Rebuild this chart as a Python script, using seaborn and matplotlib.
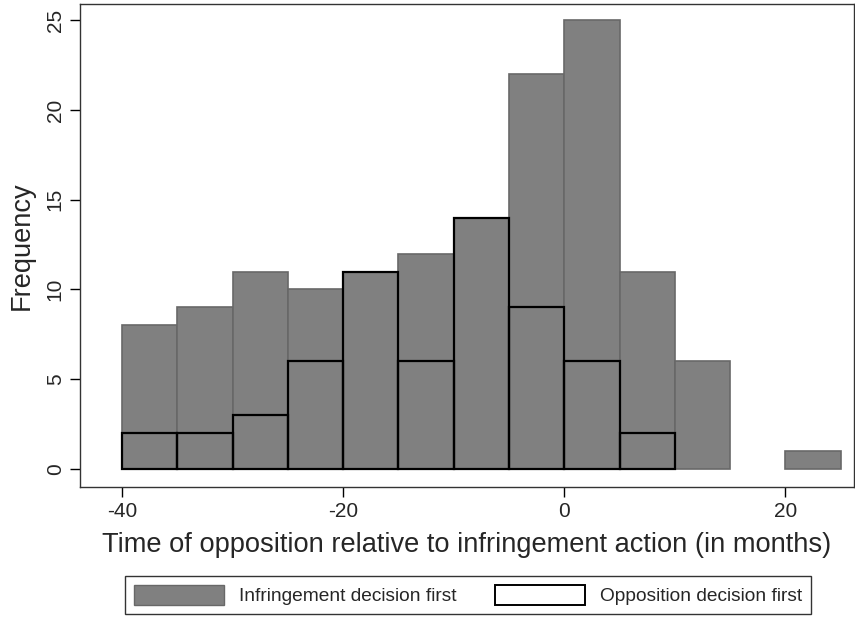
import numpy as np
import pandas as pd
import matplotlib
matplotlib.use('Agg')
import matplotlib.pyplot as plt
import seaborn as sns
from matplotlib.patches import Patch

# bin left edges (months), width 5
bin_left = [-40, -35, -30, -25, -20, -15, -10, -5, 0, 5, 10, 15, 20]
infringement_first = [8, 9, 11, 10, 11, 12, 14, 22, 25, 11, 6, 0, 1]
opp_left = [-40, -35, -30, -25, -20, -15, -10, -5, 0, 5]
opposition_first = [2, 2, 3, 6, 11, 6, 14, 9, 6, 2]

df_inf = pd.DataFrame({'mid': [b + 2.5 for b in bin_left], 'n': infringement_first})
df_opp = pd.DataFrame({'mid': [b + 2.5 for b in opp_left], 'n': opposition_first})

sns.set_style('white')
plt.rcParams['font.family'] = ['Liberation Sans', 'DejaVu Sans']
plt.rcParams['axes.unicode_minus'] = False

fig = plt.figure(figsize=(8.55, 6.17), dpi=100)
ax = fig.add_axes([80 / 855, 130 / 617, 774 / 855, 483 / 617])

sns.histplot(data=df_inf, x='mid', weights='n', bins=list(range(-40, 30, 5)), ax=ax,
             color='#808080', edgecolor='#686868', linewidth=1.2, alpha=1)
sns.histplot(data=df_opp, x='mid', weights='n', bins=list(range(-40, 15, 5)), ax=ax,
             fill=False, color='black', linewidth=1.6)
# hide empty bins
for p in ax.patches:
    if p.get_height() == 0:
        p.set_visible(False)

ax.set_xlim(-43.8, 26.2)
ax.set_ylim(-1.0, 25.9)
ax.set_xticks([-40, -20, 0, 20])
ax.set_yticks([0, 5, 10, 15, 20, 25])
ax.tick_params(axis='both', which='both', direction='out', length=7, width=1,
               color='black', labelsize=15, left=True, bottom=True, pad=4)
for lab in ax.get_yticklabels():
    lab.set_rotation(90)
    lab.set_va('center')
ax.set_xlabel('Time of opposition relative to infringement action (in months)', fontsize=19.6, labelpad=8)
ax.set_ylabel('Frequency', fontsize=19.6, labelpad=8)
for s in ax.spines.values():
    s.set_visible(True)
    s.set_color('#333333')
    s.set_linewidth(1)

handles = [
    Patch(facecolor='#808080', edgecolor='#686868', label='Infringement decision first'),
    Patch(facecolor='white', edgecolor='black', linewidth=1.4, label='Opposition decision first'),
]
leg = fig.legend(handles=handles, loc='center', bbox_to_anchor=(468 / 855, 1 - 595 / 617),
                 ncol=2, fontsize=13.8, handlelength=4.7, handleheight=1.25,
                 columnspacing=2.0, handletextpad=0.8, frameon=True, fancybox=False,
                 borderpad=0.45, edgecolor='black')
leg.get_frame().set_linewidth(1)

plt.savefig('out.png', dpi=100)
